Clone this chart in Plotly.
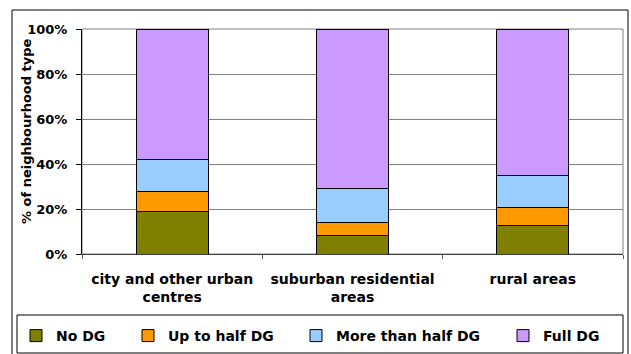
import plotly.graph_objects as go

categories = ["city and other urban<br>centres", "suburban residential<br>areas", "rural areas"]
series_names = ["No DG", "Up to half DG", "More than half DG", "Full DG"]
no_dg = [0.188, 0.081, 0.127]
up_to_half = [0.089, 0.061, 0.080]
more_than_half = [0.141, 0.150, 0.143]
full_dg = [0.582, 0.708, 0.650]
series_values = [no_dg, up_to_half, more_than_half, full_dg]
colors = ["#808000", "#FF9900", "#99CCFF", "#CC99FF"]
y_ticks = [0, 0.2, 0.4, 0.6, 0.8, 1.0]
y_title = "% of neighbourhood type"

W, H = 631, 354
L, R, T, B = 82, 8, 29, 100
pw, ph = W - L - R, H - T - B

def px(x):
    return (x - L) / pw

def py(y):
    return (H - B - y) / ph

fig = go.Figure()
legend_text_x = [58, 170, 338, 545]
legend_names = ["legend", "legend2", "legend3", "legend4"]
for i, (name, vals, col) in enumerate(zip(series_names, series_values, colors)):
    fig.add_trace(go.Bar(
        x=categories, y=vals, name=name,
        marker=dict(color=col, line=dict(color="black", width=1)),
        legend=legend_names[i],
    ))

font = dict(family="DejaVu Sans", size=13, color="black", weight="bold")
legend_common = dict(orientation="h", xanchor="left", yanchor="middle",
                     y=py(336), bgcolor="rgba(0,0,0,0)", borderwidth=0,
                     font=dict(family="DejaVu Sans", size=14, color="black", weight="bold"))
lay_leg = {}
for i, ln in enumerate(legend_names):
    lay_leg[ln] = dict(legend_common, x=px(legend_text_x[i] - 42))

fig.update_layout(
    width=W, height=H,
    margin=dict(l=L, r=R, t=T, b=B, autoexpand=False),
    paper_bgcolor="white", plot_bgcolor="white",
    font=font,
    barmode="stack", bargap=0.6,
    showlegend=True,
    **lay_leg,
    xaxis=dict(showline=True, linecolor="#404040", linewidth=1,
               ticks="outside", ticklen=4, tickcolor="#606060",
               tickson="boundaries", ticklabelstandoff=12, automargin=False,
               tickfont=dict(family="DejaVu Sans", size=14, color="black", weight="bold"),
               showgrid=False),
    yaxis=dict(range=[0, 1], tickvals=y_ticks, tickformat=".0%",
               showline=True, linecolor="black", linewidth=1,
               ticks="outside", ticklen=5, tickcolor="black",
               ticklabelstandoff=6, automargin=False,
               showgrid=True, gridcolor="#808080", gridwidth=1,
               zeroline=False,
               tickfont=dict(family="DejaVu Sans", size=13, color="black", weight="bold")),
    annotations=[
        dict(text=y_title, textangle=-90, xref="paper", yref="paper",
             x=px(26), y=py(131), xanchor="center", yanchor="middle", showarrow=False,
             font=dict(family="DejaVu Sans", size=13, color="black", weight="bold")),
    ],
    shapes=[
        dict(type="rect", xref="paper", yref="paper", x0=0, x1=1, y0=0, y1=1,
             line=dict(color="#808080", width=1), layer="below"),
        dict(type="rect", xref="paper", yref="paper", x0=px(12), x1=px(628), y0=py(356), y1=py(10),
             line=dict(color="black", width=1)),
        dict(type="rect", xref="paper", yref="paper", x0=px(17), x1=px(623), y0=py(353), y1=py(315),
             line=dict(color="black", width=1)),
    ],
)

fig.write_html("out.html")
